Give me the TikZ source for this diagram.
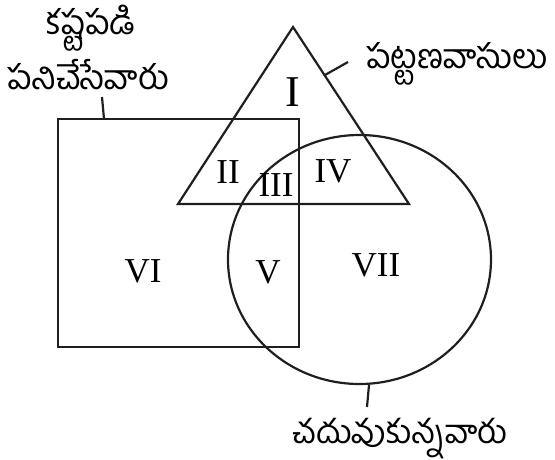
\documentclass[tikz,border=0pt]{standalone}
\usepackage{fontspec}
\setmainfont{Liberation Serif}
\newfontfamily\telugu[Script=Telugu]{Hind Guntur}
\usepackage{tikz}
\usetikzlibrary{positioning}

\begin{document}
\begin{tikzpicture}[x=1pt,y=-1pt,
  setline/.style={line width=2.2pt, draw=black!88},
  num/.style={font=\fontsize{35}{35}\selectfont, inner sep=0pt},
  lbl/.style={font=\telugu\fontsize{34}{40}\selectfont, inner sep=0pt, anchor=base}]
  \useasboundingbox (0,0) rectangle (555,459);
  % the three sets
  \draw[setline] (58,119) rectangle (299,347);
  \draw[setline] (293,27) -- (409,204) -- (178,204) -- cycle;
  \draw[setline] (359.5,259.5) ellipse [x radius=131.5, y radius=124.5];
  % region numbers
  \node[num, font=\fontsize{44}{44}\selectfont] (r1) at (293,92) {I};
  \node[num] (r2) at (228,172) {II};
  \node[num] (r3) at (276,185) {III};
  \node[num] (r4) at (333,171) {IV};
  \node[num] (r5) at (268,272) {V};
  \node[num] (r6) at (143,271) {VI};
  \node[num] (r7) at (376,265) {VII};
  % labels
  \node[lbl] (work1) at (91,34) {కష్టపడి};
  \node[lbl] (work2) at (88,89) {పనిచేసేవారు};
  \node[lbl] (town) at (457,68) {పట్టణవాసులు};
  \node[lbl, font=\telugu\fontsize{33}{40}\selectfont] (study) at (400,443) {చదువుకున్నవారు};
  % pointer ticks
  \coordinate (sqtop) at (104,119);
  \coordinate (sqend) at (102,97);
  \coordinate (tritop) at (325,75);
  \coordinate (triend) at (348,62);
  \coordinate (cirbot) at (369,385);
  \coordinate (cirend) at (367,407);
  \draw[setline] (sqtop) -- (sqend);
  \draw[setline] (tritop) -- (triend);
  \draw[setline] (cirbot) -- (cirend);
\end{tikzpicture}
\end{document}
